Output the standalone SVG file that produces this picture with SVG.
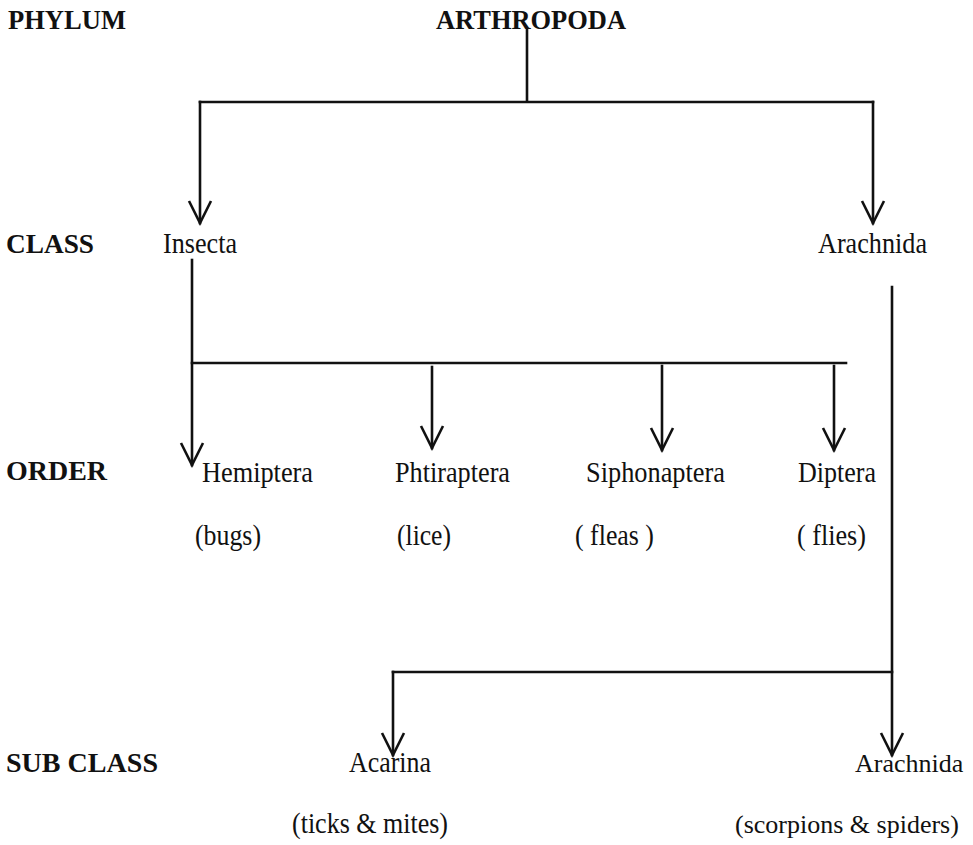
<svg xmlns="http://www.w3.org/2000/svg" width="973" height="845" viewBox="0 0 973 845">
<defs>
<style>
.lbl{font-family:"Liberation Serif","Times New Roman",serif;font-weight:bold;font-size:28px;fill:#111}
.nm{font-family:"Liberation Serif","Times New Roman",serif;font-size:30px;fill:#111}
.nms{font-family:"Liberation Serif","Times New Roman",serif;font-size:26px;fill:#111}
.ln{fill:none;stroke:#111;stroke-width:2.6;stroke-linecap:square}
.arw{marker-end:url(#v)}
</style>
<marker id="v" markerUnits="userSpaceOnUse" markerWidth="30" markerHeight="30" refX="0" refY="0" orient="auto" overflow="visible" viewBox="-25 -15 30 30">
<path d="M-22,-11 L0,0 L-22,11" fill="none" stroke="#111" stroke-width="2.6" stroke-linejoin="miter"/>
</marker>
</defs>
<rect width="973" height="845" fill="#fff"/>
<g id="rank-labels">
<text class="lbl" x="8" y="29" textLength="118" lengthAdjust="spacingAndGlyphs">PHYLUM</text>
<text class="lbl" x="6" y="253" textLength="88" lengthAdjust="spacingAndGlyphs">CLASS</text>
<text class="lbl" x="6" y="480" textLength="101" lengthAdjust="spacingAndGlyphs">ORDER</text>
<text class="lbl" x="6" y="772" textLength="152" lengthAdjust="spacingAndGlyphs">SUB CLASS</text>
</g>
<g id="connectors">
<path class="ln" d="M527 30 V102 M200 102 H873"/>
<path class="ln arw" d="M200 102 V223"/>
<path class="ln arw" d="M873 102 V223"/>
<path class="ln arw" d="M192 260 V465"/>
<path class="ln" d="M192 363 H846"/>
<path class="ln arw" d="M432 367 V448"/>
<path class="ln arw" d="M662 366 V450"/>
<path class="ln arw" d="M834 366 V450"/>
<path class="ln arw" d="M892 287 V755"/>
<path class="ln" d="M393 672 H892"/>
<path class="ln arw" d="M393 672 V755"/>
</g>
<g id="arthropoda"><text class="lbl" x="436" y="29" textLength="190" lengthAdjust="spacingAndGlyphs">ARTHROPODA</text></g>
<g id="insecta"><text class="nm" x="163" y="253" textLength="74" lengthAdjust="spacingAndGlyphs">Insecta</text></g>
<g id="arachnida-class"><text class="nm" x="818" y="253" textLength="109" lengthAdjust="spacingAndGlyphs">Arachnida</text></g>
<g id="hemiptera">
<text class="nm" x="202" y="482" textLength="111" lengthAdjust="spacingAndGlyphs">Hemiptera</text>
<text class="nm" x="195" y="545" textLength="66" lengthAdjust="spacingAndGlyphs">(bugs)</text>
</g>
<g id="phtiraptera">
<text class="nm" x="395" y="482" textLength="115" lengthAdjust="spacingAndGlyphs">Phtiraptera</text>
<text class="nm" x="397" y="545" textLength="54" lengthAdjust="spacingAndGlyphs">(lice)</text>
</g>
<g id="siphonaptera">
<text class="nm" x="586" y="482" textLength="139" lengthAdjust="spacingAndGlyphs">Siphonaptera</text>
<text class="nm" x="575" y="545" textLength="79" lengthAdjust="spacingAndGlyphs">( fleas )</text>
</g>
<g id="diptera">
<text class="nm" x="798" y="482" textLength="78" lengthAdjust="spacingAndGlyphs">Diptera</text>
<text class="nm" x="797" y="545" textLength="69" lengthAdjust="spacingAndGlyphs">( flies)</text>
</g>
<g id="acarina">
<text class="nm" x="349" y="772" textLength="82" lengthAdjust="spacingAndGlyphs">Acarina</text>
<text class="nm" x="292" y="833" textLength="156" lengthAdjust="spacingAndGlyphs">(ticks &amp; mites)</text>
</g>
<g id="arachnida-sub">
<text class="nms" x="855" y="772">Arachnida</text>
<text class="nms" x="735" y="833">(scorpions &amp; spiders)</text>
</g>
</svg>
